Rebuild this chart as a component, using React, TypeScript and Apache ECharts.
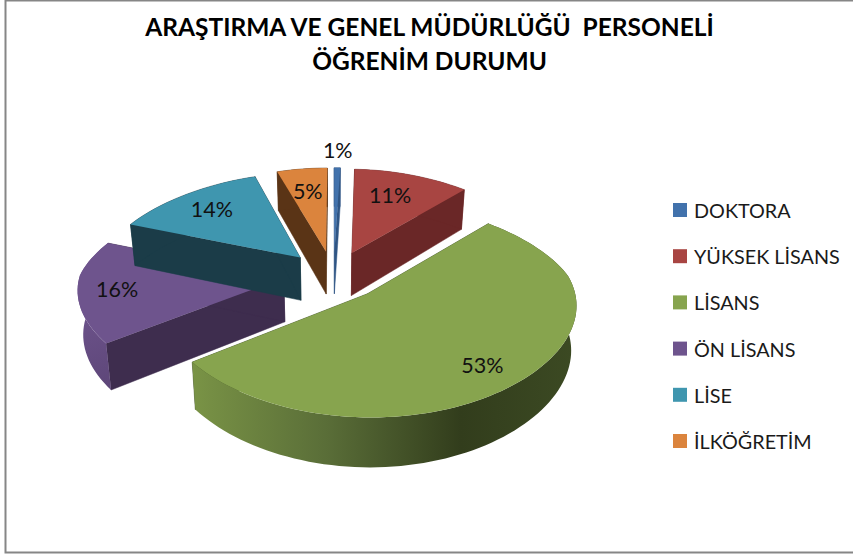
import React, { useEffect, useRef } from "react";
import * as echarts from "echarts";

const categories = ["DOKTORA", "YÜKSEK LİSANS", "LİSANS", "ÖN LİSANS", "LİSE", "İLKÖĞRETİM"];
const shares = [0.6, 11.2, 53, 16, 14, 5];
const topColors = ["#4272AC", "#A84542", "#87A44E", "#6E548D", "#3F96AF", "#DB843D"];
const wallColors = ["#2F5584", "#6A2727", "#3A4A22", "#3E2D4E", "#1B3C48", "#5A3416"];
const paintOrder = [2, 3, 4, 1, 5, 6]; // z for each category
const labelFractions = [1.24, 0.71, 0.8, 0.81, 0.75, 0.72];
const labelAngleShifts = [0, -3, 2, 0, 0, 0];

const TITLE = "ARAŞTIRMA VE GENEL MÜDÜRLÜĞÜ  PERSONELİ\nÖĞRENİM DURUMU";

// projection of the tilted, exploded pie
const CX = 333.5, CY = 275, R = 204, EXPLODE = 50, TILT = 0.49, DEPTH = 43.5, BASE_SCALE = 0.978;
const total = shares.reduce((a, b) => a + b, 0);
const rad = (d: number) => (d * Math.PI) / 180;

function sliceAngles(i: number) {
  const before = shares.slice(0, i).reduce((a, b) => a + b, 0);
  return [(before / total) * 360, ((before + shares[i]) / total) * 360];
}
function project(X: number, Y: number) {
  const sx = 1 + (Y < 0 ? 0.00085 : 0.00049) * Y;
  const sy = 1 + 0.000702 * Y + 6.16e-7 * Y * Y;
  return [CX + X * sx, CY + TILT * Y * sy];
}
function lower(p: number[]) {
  return [CX + (p[0] - CX) * BASE_SCALE, p[1] + DEPTH + (p[1] - CY) * 0.045];
}

function makeRenderItem(i: number) {
  return () => {
    const [a0, a1] = sliceAngles(i);
    const mid = (a0 + a1) / 2;
    const ox = EXPLODE * Math.sin(rad(mid));
    const oy = -EXPLODE * Math.cos(rad(mid));
    const at = (deg: number, f = 1) =>
      project(ox + R * f * Math.sin(rad(deg)), oy - R * f * Math.cos(rad(deg)));
    const steps = Math.max(2, Math.ceil((a1 - a0) / 2));
    const arc: number[][] = [];
    for (let k = 0; k <= steps; k++) arc.push(at(a0 + ((a1 - a0) * k) / steps));
    const apex = project(ox, oy);
    const children: any[] = [];
    const wall = (pts: number[][], fill: any) =>
      children.push({
        type: "polygon",
        shape: { points: pts },
        style: { fill, stroke: fill === wallColors[i] ? fill : undefined, lineWidth: 0.5 },
        silent: true,
      });
    // radial walls
    wall([apex, arc[0], lower(arc[0]), lower(apex)], wallColors[i]);
    wall([apex, arc[arc.length - 1], lower(arc[arc.length - 1]), lower(apex)], wallColors[i]);
    // outer wall, shaded along the rim
    const outerFill =
      i === 2
        ? new echarts.graphic.LinearGradient(190, 0, 577, 0, [
            { offset: 0, color: "#7A9446" },
            { offset: 0.35, color: "#5A6E38" },
            { offset: 0.7, color: "#323D1C" },
            { offset: 1, color: "#3C4A23" },
          ], true)
        : i === 3
        ? new echarts.graphic.LinearGradient(80, 300, 110, 390, [
            { offset: 0, color: "#6E548D" },
            { offset: 1, color: "#5D4678" },
          ], true)
        : wallColors[i];
    wall([...arc, ...arc.slice().reverse().map(lower)], outerFill);
    // top face
    children.push({
      type: "polygon",
      shape: { points: [apex, ...arc] },
      style: { fill: topColors[i] },
      silent: true,
    });
    const lp = at(mid + labelAngleShifts[i], labelFractions[i]);
    children.push({
      type: "text",
      silent: true,
      style: {
        text: `${Math.round(shares[i])}%`,
        x: lp[0],
        y: lp[1],
        align: "center",
        verticalAlign: "middle",
        fill: "#111111",
        font: "21.5px Lato",
      },
    });
    return { type: "group", children };
  };
}

export default function App() {
  const ref = useRef<HTMLDivElement>(null);
  useEffect(() => {
    document.body.style.margin = "0";
    const chart = echarts.init(ref.current!, undefined, { renderer: "svg" });
    chart.setOption({
      animation: false,
      backgroundColor: "#ffffff",
      graphic: [
        {
          type: "polyline",
          shape: { points: [[860, 0.5], [5.5, 0.5], [5.5, 552.5], [860, 552.5]] },
          style: { stroke: "#868686", lineWidth: 2, fill: "none" },
          z: 0,
          silent: true,
        },
      ],
      title: {
        text: TITLE,
        left: 424.5,
        top: 4,
        textAlign: "center",
        textStyle: { fontFamily: "Lato", fontWeight: "bold", fontSize: 24.5, lineHeight: 34, color: "#000000" },
      },
      legend: {
        orient: "vertical",
        left: 668,
        top: 195,
        itemWidth: 14,
        itemHeight: 14,
        itemGap: 26.2,
        icon: "rect",
        selectedMode: false,
        data: categories,
        textStyle: { fontFamily: "Lato", fontSize: 19.8, color: "#1a1a1a", height: 20, lineHeight: 20, padding: [0, 0, 0, 2] },
      },
      series: categories.map((name, i) => ({
        type: "custom",
        name,
        coordinateSystem: "none",
        z: paintOrder[i] + 2,
        itemStyle: { color: topColors[i] },
        renderItem: makeRenderItem(i),
        data: [{ name, value: [shares[i]] }],
      })),
    });
    return () => chart.dispose();
  }, []);
  return <div ref={ref} style={{ width: 853, height: 555 }} />;
}
